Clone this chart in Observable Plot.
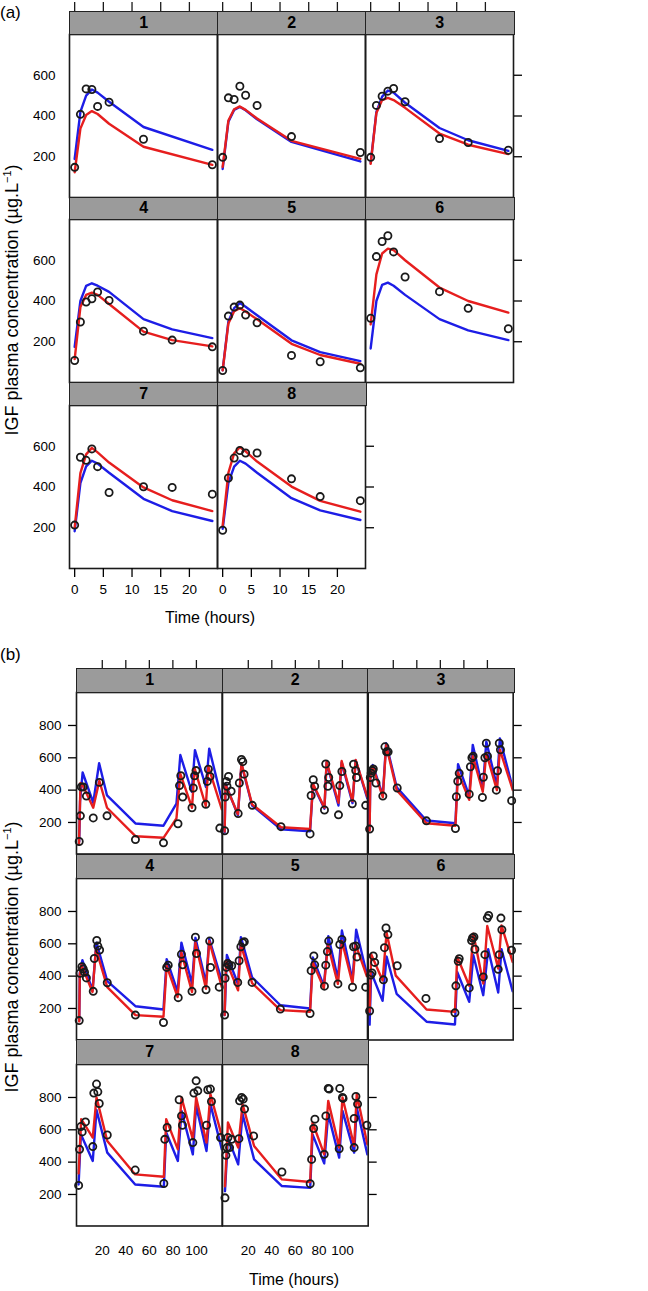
<!DOCTYPE html>
<html><head><meta charset="utf-8">
<script src="https://cdn.jsdelivr.net/npm/d3@7"></script>
<script src="https://cdn.jsdelivr.net/npm/@observablehq/plot@0.6"></script>
<style>
body{margin:0;background:#fff;}
#root{position:relative;width:648px;height:1291px;font-family:"Liberation Sans",Arial,sans-serif;color:#000;overflow:hidden;}
.strip{position:absolute;box-sizing:border-box;background:#9b9b9b;border:1.5px solid #222;display:flex;align-items:center;justify-content:center;font-size:16px;font-weight:bold;line-height:1;}
.ytitle{position:absolute;white-space:nowrap;font-size:18px;transform:translate(-50%,-50%) rotate(-90deg);}
.xtitle{position:absolute;white-space:nowrap;font-size:16px;transform:translate(-50%,-50%);}
.tag{position:absolute;font-size:17px;}
</style></head>
<body><div id="root"></div>
<script>
// ---------------- data ----------------
const panelNames = ["1","2","3","4","5","6","7","8"];
const aXTicks = [0,5,10,15,20];
const aYTicks = [200,400,600];
const bXTicks = [20,40,60,80,100];
const bYTicks = [200,400,600,800];

// (a) single dose: [time (h), IGF (µg/L)]
const aObs = [
 [[0,148],[1,408],[2,533],[3,530],[4,447],[6,468],[12,286],[24,161]],
 [[0,197],[1,489],[2,481],[3,546],[4,502],[6,452],[12,299],[24,221]],
 [[0,197],[1,452],[2,497],[3,522],[4,535],[6,470],[12,289],[17,270],[24,232]],
 [[0,108],[1,297],[2,395],[3,411],[4,444],[6,403],[12,252],[17,208],[24,175]],
 [[0,59],[1,326],[2,370],[3,380],[4,331],[6,293],[12,133],[17,102],[24,72]],
 [[0,315],[1,618],[2,692],[3,720],[4,641],[6,518],[12,446],[17,364],[24,264]],
 [[0,213],[1,546],[2,531],[3,587],[4,500],[6,373],[12,401],[17,398],[24,365]],
 [[0,188],[1,444],[2,542],[3,579],[4,567],[6,567],[12,440],[17,353],[24,333]]
];
const aBlue = [
 [[0,189],[1,420],[2,500],[3,530],[4,515],[6,470],[12,346],[24,234]],
 [[0,140],[1,372],[2,430],[3,444],[4,428],[6,384],[12,273],[24,177]],
 [[0,170],[1,420],[2,495],[3,525],[4,515],[6,465],[12,341],[17,281],[24,229]],
 [[0,175],[1,400],[2,474],[3,487],[4,475],[6,445],[12,311],[17,261],[24,218]],
 [[0,60],[1,300],[2,365],[3,390],[4,372],[6,330],[12,207],[17,149],[24,105]],
 [[0,167],[1,400],[2,479],[3,490],[4,475],[6,430],[12,311],[17,256],[24,208]],
 [[0,183],[1,419],[2,501],[3,529],[4,515],[6,470],[12,342],[17,282],[24,233]],
 [[0,195],[1,420],[2,500],[3,529],[4,515],[6,470],[12,345],[17,285],[24,238]]
];
const aRed = [
 [[0,124],[1,338],[2,405],[3,424],[4,410],[6,362],[12,249],[24,160]],
 [[0,150],[1,378],[2,433],[3,447],[4,430],[6,388],[12,278],[24,190]],
 [[0,165],[1,415],[2,478],[3,489],[4,478],[6,440],[12,314],[17,259],[24,213]],
 [[0,115],[1,370],[2,430],[3,441],[4,430],[6,385],[12,250],[17,208],[24,177]],
 [[0,60],[1,290],[2,350],[3,365],[4,348],[6,310],[12,190],[17,135],[24,92]],
 [[0,285],[1,531],[2,633],[3,657],[4,650],[6,600],[12,466],[17,400],[24,343]],
 [[0,200],[1,468],[2,560],[3,592],[4,570],[6,520],[12,398],[17,335],[24,282]],
 [[0,210],[1,470],[2,565],[3,595],[4,575],[6,525],[12,402],[17,332],[24,279]]
];

// (b) repeated doses
const bObs = [
 [[0.5,82],[1.5,241],[2.3,420],[3.9,420],[6.6,363],[12.4,228],[17.6,448],[24.1,241],[48.2,94],[72,74],[84.3,192],[85.6,428],[86.7,489],[88.3,357],[96.2,291],[97.3,413],[98.4,489],[99.6,521],[107.9,312],[109.2,454],[110.1,529],[111.5,485],[119.8,165]],
 [[0,149],[0.5,357],[1.5,454],[2,424],[3.3,485],[5.5,393],[11.5,255],[12.5,444],[14.3,590],[15.4,576],[16.5,499],[23.5,306],[47.8,174],[72.5,129],[73.4,367],[75.2,464],[76.4,424],[84.7,277],[85.8,562],[87.6,424],[88.3,478],[96.6,247],[97.7,428],[99.5,515],[108.3,316],[109.4,560],[111.2,521],[111.9,478],[119.7,306]],
 [[0,159],[0.6,478],[1.3,505],[2.5,521],[3.1,531],[5.4,444],[11.2,363],[13,668],[14.4,637],[15.7,637],[23.4,413],[48.2,210],[72.8,163],[73.6,359],[74.8,455],[76,504],[84.5,375],[85.5,545],[86.8,600],[87.8,610],[95.7,355],[96.5,480],[97.8,600],[99,690],[100,610],[107.5,400],[108.5,520],[110,690],[111,650],[120.5,335]],
 [[0.5,125],[1.2,418],[2.8,458],[3.9,444],[5,424],[6.6,389],[12.4,306],[13.3,509],[15.4,621],[16.3,586],[17.8,562],[24.3,359],[48.2,159],[72,113],[74.7,454],[76,468],[84.5,267],[87.2,535],[88.3,470],[96.2,306],[99.1,641],[100,540],[108.1,316],[111.2,617],[111.9,454],[119.3,332]],
 [[0,159],[0.4,387],[1.5,454],[2.6,478],[3.7,468],[6,464],[11.1,361],[12.3,495],[13.8,582],[15.4,607],[16.7,613],[23.3,361],[47.3,196],[72.5,169],[73.4,434],[75.7,525],[76.4,470],[84.7,338],[85.8,468],[87.2,552],[88.3,617],[96.1,352],[97.7,596],[99.5,627],[108.5,332],[109.4,582],[111.2,586],[112.3,519],[119.7,332]],
 [[0,184],[0.9,407],[2,420],[3.1,525],[4.3,485],[11.7,377],[12.6,576],[13.9,698],[15.5,657],[23.4,464],[47.8,262],[72.4,173],[73.2,340],[75.2,492],[76,508],[84.5,327],[86.5,620],[87.3,636],[88.5,642],[89.3,566],[96.4,395],[97.8,533],[99.8,759],[101,775],[109.1,442],[110,533],[111.4,759],[112.2,687],[120.4,560]],
 [[0,256],[0.8,479],[1.9,620],[3,587],[5.8,649],[12,496],[12.9,827],[15.2,883],[16.3,835],[17.5,763],[24.3,568],[48,351],[72.3,268],[73.1,541],[75.1,614],[85.3,786],[87.3,686],[88.1,628],[96.9,521],[97.8,827],[99.7,903],[101.1,841],[108.5,628],[109.6,848],[111.8,852],[112.7,775],[120.4,552]],
 [[0.3,179],[1.1,442],[2,490],[2.8,552],[4.2,490],[5.9,541],[12.1,545],[12.7,779],[14.4,800],[15.8,790],[16.9,728],[24.6,562],[48.6,339],[72.6,266],[73.8,417],[75.5,608],[76.6,666],[84.5,448],[85.9,686],[87.9,856],[88.7,852],[97.2,483],[97.7,856],[100,800],[100.5,794],[109.9,490],[109.9,670],[111.4,806],[112.8,759],[120.7,628]]
];
const bBlue = [
 [[0.5,82],[1.2,330],[3.4,509],[12.4,322],[17.4,566],[24.1,367],[48.2,194],[72,180],[83,316],[86.3,617],[96,390],[98.7,647],[108,420],[110.8,657],[121.5,340]],
 [[0,138],[0.8,440],[1.9,418],[11.3,245],[14.3,560],[23.3,305],[47.8,158],[72.5,146],[75,432],[84.7,285],[86.5,570],[96.6,305],[99.3,572],[108.5,320],[111.2,584],[121,350]],
 [[0,160],[0.6,490],[2.7,555],[11.2,368],[14,690],[23,418],[48.2,212],[72.8,195],[75,560],[84.5,365],[87.5,680],[96,405],[99,700],[108,425],[110.5,720],[121.5,410]],
 [[0.5,125],[1,420],[3.2,499],[11.8,312],[15.1,607],[24.3,369],[48.2,214],[72,194],[74.7,505],[84,302],[87.2,607],[96.2,352],[99.1,637],[108.1,357],[110.8,631],[121.5,373]],
 [[0,159],[1.9,531],[11.4,350],[13.8,641],[23.3,393],[47.3,220],[72.5,200],[74.8,515],[84.2,340],[88,647],[96.1,383],[99.5,682],[108.5,373],[111.6,688],[120.6,413]],
 [[0,100],[1.3,424],[11,247],[14.4,521],[22.9,291],[48.3,118],[72.4,101],[74.3,426],[84.5,241],[88,529],[96.4,282],[100.6,566],[109.1,299],[111.9,566],[121.3,307]],
 [[0,262],[1.9,572],[12,407],[15.2,723],[24.3,459],[48,262],[72.3,248],[74.3,583],[84.2,407],[87.3,717],[96.9,448],[99.7,748],[108.5,469],[111.8,759],[121.5,479]],
 [[0.3,220],[2.8,552],[11.5,386],[15.2,697],[25,417],[48.6,252],[72.6,241],[74.6,572],[84.5,392],[87.9,697],[97.2,428],[100,717],[109.9,459],[112.1,738],[121.1,448]]
];
const bRed = [
 [[0.3,62],[1.6,444],[3.5,430],[12.4,291],[17.6,458],[24.1,291],[48.2,115],[72,105],[83,225],[86.3,500],[96.2,291],[98.4,535],[107.9,302],[110.1,546],[121.5,281]],
 [[0,144],[0.8,434],[1.9,413],[11.3,251],[14.3,566],[23.3,312],[47.8,170],[72.5,160],[75,440],[84.7,291],[86.5,576],[96.6,322],[99.3,580],[108.5,332],[111.2,586],[121,360]],
 [[0,150],[0.6,485],[2.7,546],[11.2,357],[14,678],[23,400],[48.2,195],[72.8,180],[75,510],[84.5,340],[87.5,610],[96,390],[99,630],[108,400],[110.5,650],[121.5,400]],
 [[0.5,120],[1,410],[2.3,470],[11.8,302],[14.7,570],[24.3,332],[48.2,159],[72,149],[74.7,464],[84,271],[87.2,546],[96.2,302],[99.1,607],[108.1,322],[110.8,617],[121.5,332]],
 [[0,159],[1.2,495],[11.4,312],[13.8,596],[23.3,357],[47.3,190],[72.5,180],[74.8,485],[84.2,325],[87.6,596],[96.1,352],[99.5,617],[108.5,355],[111.2,596],[120.6,400]],
 [[0,180],[1.3,535],[11,373],[14.4,668],[22.2,403],[48.3,194],[72.4,179],[74.3,520],[84.5,340],[88,662],[96.4,354],[99.8,710],[109.1,447],[111.9,714],[121.3,488]],
 [[0,330],[2.2,666],[12,552],[15.2,800],[24.3,531],[48,324],[72.3,310],[74.3,666],[84.2,479],[87.3,800],[96.9,541],[99.7,800],[108.5,521],[111.8,821],[121.5,562]],
 [[0.3,250],[2.8,645],[11.5,490],[15.2,759],[25,500],[48.6,293],[72.6,277],[74.6,645],[84.5,448],[87.9,779],[97.2,490],[100,800],[109.9,500],[112.1,821],[121.1,510]]
];

// ---------------- drawing ----------------
const BLUE = "#1d1de6", RED = "#e61e1e", INK = "#1a1a1a";
const root = document.getElementById("root");
const FONT = '"Liberation Sans", Arial, sans-serif';

function place(el, left, top) {
  el.style.position = "absolute";
  el.style.left = left + "px";
  el.style.top = top + "px";
  root.appendChild(el);
}
function addDiv(cls, html, left, top, extra) {
  const d = document.createElement("div");
  d.className = cls; d.innerHTML = html;
  d.style.left = left + "px"; d.style.top = top + "px";
  if (extra) Object.assign(d.style, extra);
  root.appendChild(d);
  return d;
}

function section(cfg) {
  const {obs, blue, red, xDomain, yDomain, xTicks, yTicks, colLeft, w, stripTop, stripH, plotH} = cfg;
  for (let i = 0; i < panelNames.length; i++) {
    const row = Math.floor(i / 3), col = i % 3;
    const left = colLeft[col], plotTop = stripTop[row] + stripH;
    const hasLeft = col === 0;
    const hasRight = col === 2 || i === panelNames.length - 1;
    const hasBottom = row === 2;
    const m = {t: 2, r: hasRight ? 12 : 2, b: hasBottom ? 40 : 2, l: hasLeft ? 62 : 2};
    const marks = [
      Plot.line(blue[i], {x: d => d[0], y: d => d[1], stroke: BLUE, strokeWidth: 2.4, clip: true}),
      Plot.line(red[i], {x: d => d[0], y: d => d[1], stroke: RED, strokeWidth: 2.4, clip: true}),
      Plot.dot(obs[i], {x: d => d[0], y: d => d[1], r: 3.6, stroke: INK, strokeWidth: 1.8, fill: "none"}),
      Plot.frame({stroke: INK, strokeWidth: 1.6})
    ];
    if (hasLeft) marks.push(Plot.axisY({anchor: "left", ticks: yTicks, tickSize: cfg.leftTick, tickPadding: cfg.leftPad, label: null, strokeWidth: 1.3}));
    if (hasRight) marks.push(Plot.axisY({anchor: "right", ticks: yTicks, tickSize: 8, tickFormat: () => "", label: null, strokeWidth: 1.3}));
    if (hasBottom) marks.push(Plot.axisX({anchor: "bottom", ticks: xTicks, tickSize: cfg.bottomTick, tickPadding: cfg.bottomPad, label: null, strokeWidth: 1.3}));
    const xOpt = {domain: xDomain}; if (!hasBottom) xOpt.axis = null;
    const yOpt = {domain: yDomain}; if (!hasLeft && !hasRight) yOpt.axis = null;
    const svg = Plot.plot({
      width: w + m.l + m.r, height: plotH + m.t + m.b,
      marginTop: m.t, marginRight: m.r, marginBottom: m.b, marginLeft: m.l,
      x: xOpt, y: yOpt,
      style: {background: "transparent", overflow: "visible", fontSize: "13.5px", fontFamily: FONT, color: "#000"},
      marks
    });
    place(svg, left - m.l, plotTop - m.t);
    addDiv("strip", panelNames[i], left, stripTop[row], {width: (w + 1.5) + "px", height: (stripH + 1) + "px"});
    if (row === 0) {
      const tk = Plot.plot({
        width: w, height: cfg.topTick, margin: 0,
        x: {domain: xDomain, axis: null},
        style: {background: "transparent", overflow: "visible"},
        marks: [Plot.ruleX(xTicks, {stroke: INK, strokeWidth: 1.3})]
      });
      place(tk, left, stripTop[row] - cfg.topTick);
    }
  }
}

section({
  obs: aObs, blue: aBlue, red: aRed,
  xDomain: [-0.9, 24.9], yDomain: [0, 800], xTicks: aXTicks, yTicks: aYTicks,
  colLeft: [69, 217, 365], w: 148,
  stripTop: [11, 196.5, 382], stripH: 22.5, plotH: 163,
  leftTick: 0, leftPad: 14, bottomTick: 9, bottomPad: 7, topTick: 9
});
section({
  obs: bObs, blue: bBlue, red: bRed,
  xDomain: [-1.8, 121.8], yDomain: [5, 1004], xTicks: bXTicks, yTicks: bYTicks,
  colLeft: [76, 221.7, 367.4], w: 145.7,
  stripTop: [667.8, 853.6, 1039.4], stripH: 24.3, plotH: 161.5,
  leftTick: 8, leftPad: 7, bottomTick: 0, bottomPad: 19, topTick: 8
});

const yLab = 'IGF plasma concentration (µg.L<sup style="font-size:11px">−1</sup>)';
addDiv("ytitle", yLab, 12, 300);
addDiv("ytitle", yLab, 12, 957);
addDiv("xtitle", "Time (hours)", 210, 618);
addDiv("xtitle", "Time (hours)", 294, 1280);
addDiv("tag", "(a)", 0, 3);
addDiv("tag", "(b)", 0, 645);
</script></body></html>
